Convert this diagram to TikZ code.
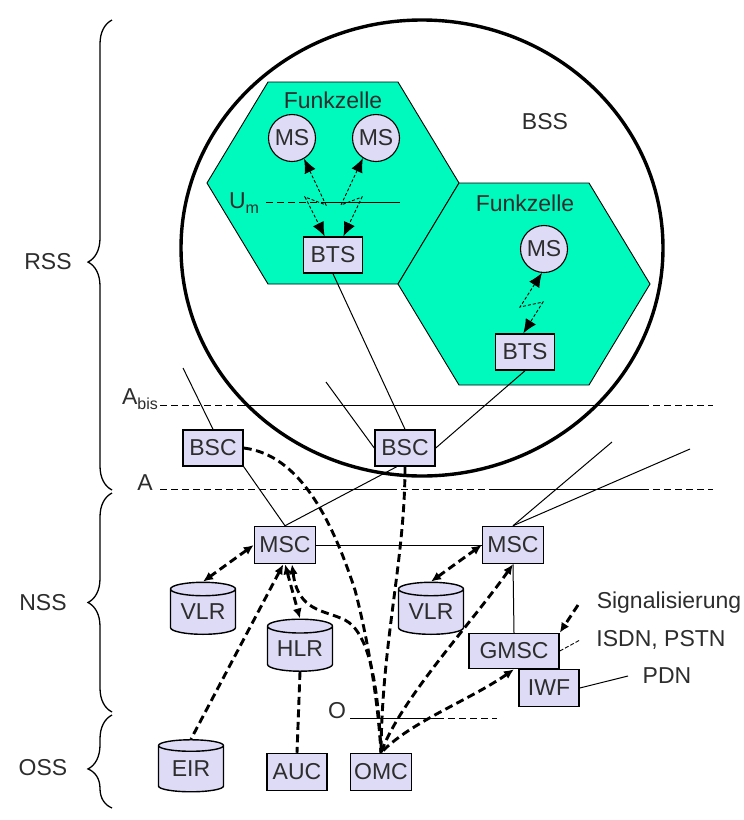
\documentclass[tikz,border=0pt]{standalone}
\usepackage{fontspec}
\setmainfont{Liberation Sans}
\usetikzlibrary{shapes.geometric,arrows.meta,decorations.pathreplacing,calc}
\definecolor{lav}{RGB}{221,219,245}
\definecolor{cellgreen}{RGB}{0,250,190}
\definecolor{txt}{RGB}{45,45,45}
\begin{document}
\begin{tikzpicture}[x=1pt,y=-1pt,
  lbl/.style={font=\fontsize{23}{26}\selectfont, text=txt, inner sep=0pt},
  boxnode/.style={draw, fill=lav, line width=1.5pt, minimum width=60pt, minimum height=36pt, inner sep=0pt, font=\fontsize{23}{26}\selectfont, text=txt},
  msnode/.style={circle, draw, fill=lav, line width=1.1pt, minimum size=47pt, inner sep=0pt, font=\fontsize{23}{26}\selectfont, text=txt},
  dbnode/.style={cylinder, shape border rotate=90, aspect=0.3, draw, fill=lav, line width=1.4pt, minimum width=65pt, minimum height=52pt, inner sep=0pt, font=\fontsize{23}{26}\selectfont, text=txt},
  wire/.style={line width=1pt},
  dwire/.style={line width=1pt, dash pattern=on 7pt off 4pt},
  sig/.style={line width=2.9pt, dash pattern=on 8pt off 4.5pt},
  tipend/.style={-{Latex[length=10pt,width=9pt]}},
  tipstart/.style={{Latex[length=10pt,width=9pt]}-},
  tipboth/.style={{Latex[length=10pt,width=9pt]}-{Latex[length=10pt,width=9pt]}},
  radio/.style={line width=0.9pt, dash pattern=on 3pt off 2pt, {Latex[length=14pt,width=12pt]}-{Latex[length=14pt,width=12pt]}},
  bracestyle/.style={line width=1.3pt, decorate}
]
\useasboundingbox (0,0) rectangle (744,820);
\fill[white] (0,0) rectangle (744,820);

% braces
\draw[bracestyle, decoration={brace, amplitude=24pt, aspect=0.485}] (112,490) -- (112,20);
\draw[bracestyle, decoration={brace, amplitude=24pt, aspect=0.5}] (112,712) -- (112,493);
\draw[bracestyle, decoration={brace, amplitude=24pt, aspect=0.42}] (112,808) -- (112,715);

% cells
\filldraw[fill=cellgreen, line width=0.9pt] (268,82) -- (398,82) -- (459,183) -- (398,284) -- (268,284) -- (207,183) -- cycle;
\filldraw[fill=cellgreen, line width=0.9pt] (459,183) -- (589,183) -- (650,284) -- (589,385) -- (459,385) -- (398,284) -- cycle;

% BSS circle
\draw[line width=3.4pt] (422,248) ellipse [x radius=241, y radius=228];

% interface lines
\draw[dwire] (266,202) -- (327,202);
\draw[wire] (327,202) -- (400,202);
\draw[dwire] (160,405) -- (243,405);
\draw[wire] (243,405) -- (642,405);
\draw[dwire] (642,405) -- (713,405);
\draw[dwire] (160,489) -- (310,489);
\draw[wire] (310,489) -- (390,489);
\draw[dwire] (390,489) -- (490,489);
\draw[wire] (490,489) -- (642,489);
\draw[dwire] (642,489) -- (713,489);
\draw[wire] (350,718) -- (437,718);
\draw[dwire] (437,718) -- (497,718);

% labels
\node[lbl] (lrss) at (48,262) {RSS};
\node[lbl] (lnss) at (43,603) {NSS};
\node[lbl] (loss) at (43,768) {OSS};
\node[lbl] (lbss) at (545,122) {BSS};
\node[lbl] (lfz1) at (333,100) {Funkzelle};
\node[lbl] (lfz2) at (525,203) {Funkzelle};
\node[lbl] (lum) at (244,203) {U\raisebox{-5pt}{\fontsize{16}{16}\selectfont m}};
\node[lbl] (labis) at (140,399) {A\raisebox{-5pt}{\fontsize{16}{16}\selectfont bis}};
\node[lbl] (la) at (145,483) {A};
\node[lbl] (lo) at (337,711) {O};
\node[lbl] (lsig) at (669,603) {Signalisierung};
\node[lbl] (lisdn) at (661,640) {ISDN, PSTN};
\node[lbl] (lpdn) at (667,676) {PDN};

% nodes
\node[msnode] (ms1) at (292,138) {MS};
\node[msnode] (ms2) at (376,138) {MS};
\node[msnode] (ms3) at (544,249) {MS};
\node[boxnode, minimum width=59pt] (bts1) at (333,255) {BTS};
\node[boxnode, minimum width=59pt] (bts2) at (525,352) {BTS};
\node[boxnode] (bsc1) at (213,448) {BSC};
\node[boxnode] (bsc2) at (405,448) {BSC};
\node[boxnode, minimum width=61pt, minimum height=37pt] (msc1) at (285,545) {MSC};
\node[boxnode, minimum width=61pt, minimum height=37pt] (msc2) at (513,545) {MSC};
\node[dbnode] (vlr1) at (203,612) {VLR};
\node[dbnode] (hlr) at (300,649) {HLR};
\node[dbnode] (vlr2) at (431,612) {VLR};
\node[dbnode] (eir) at (191,769) {EIR};
\node[boxnode, minimum width=90pt, minimum height=35pt] (gmsc) at (514,651) {GMSC};
\node[boxnode, minimum height=37pt] (iwf) at (549,688) {IWF};
\node[boxnode, minimum height=37pt] (auc) at (297,772) {AUC};
\node[boxnode, minimum width=61pt, minimum height=37pt] (omc) at (381,772) {OMC};

% free ends
\coordinate (stubA) at (183,368);
\coordinate (stubB) at (326,382);
\coordinate (stubC) at (612,442);
\coordinate (stubD) at (690,449);
\coordinate (sigend) at (578,605);
\coordinate (isdnend) at (580,640);
\coordinate (pdnend) at (628,676);
\coordinate (l1a) at (326,205);
\coordinate (l1b) at (305,197);
\coordinate (l2a) at (341,205);
\coordinate (l2b) at (362,197);
\coordinate (l3a) at (520,307);
\coordinate (l3b) at (543,302);

% radio links
\draw[radio] (ms1.-60) -- (l1a) -- (l1b) -- (bts1.114);
\draw[radio] (ms2.237) -- (l2a) -- (l2b) -- (bts1.61);
\draw[radio] (ms3.265) -- (l3a) -- (l3b) -- (bts2.95);

% thin solid connections
\draw[wire] (bts1.south) -- (bsc2.north);
\draw[wire] (bts2.south) -- (bsc2.east);
\draw[wire] (stubB) -- (bsc2.west);
\draw[wire] (stubA) -- (bsc1.north);
\draw[wire] (bsc1.south east) -- (msc1.north);
\draw[wire] (msc1.north) -- (bsc2.246);
\draw[wire] (msc1.east) -- (msc2.west);
\draw[wire] (msc2.north) -- (stubC);
\draw[wire] (msc2.north) -- (stubD);
\draw[wire] (msc2.south) -- (gmsc.north);
\draw[line width=0.9pt, dash pattern=on 4pt off 2pt] (gmsc.east) -- (isdnend);
\draw[wire] (iwf.east) -- (pdnend);

% signalling (dashed thick)
\draw[sig, tipboth] (msc1.west) -- (vlr1.north);
\draw[sig, tipboth] (msc1.south) -- (hlr.north);
\draw[sig, tipstart] (msc1.265) -- (eir.north);
\draw[sig] (hlr.south) -- (auc.north);
\draw[sig, tipstart] (msc1.290) .. controls (298,612) and (325,610) .. (345,620) .. controls (368,632) and (378,680) .. (omc.north);
\draw[sig] (bsc1.east) .. controls (300,455) and (332,520) .. (355,590) .. controls (368,640) and (378,700) .. (omc.north);
\draw[sig] (bsc2.south) .. controls (405,560) and (382,640) .. (omc.north);
\draw[sig, tipboth] (vlr2.north) -- (msc2.west);
\draw[sig, tipstart] (msc2.south) .. controls (470,625) and (400,700) .. (omc.north);
\draw[sig, tipstart] (gmsc.south) .. controls (470,700) and (410,722) .. (omc.north);
\draw[sig, tipend] (sigend) -- (gmsc.north east);
\end{tikzpicture}
\end{document}
